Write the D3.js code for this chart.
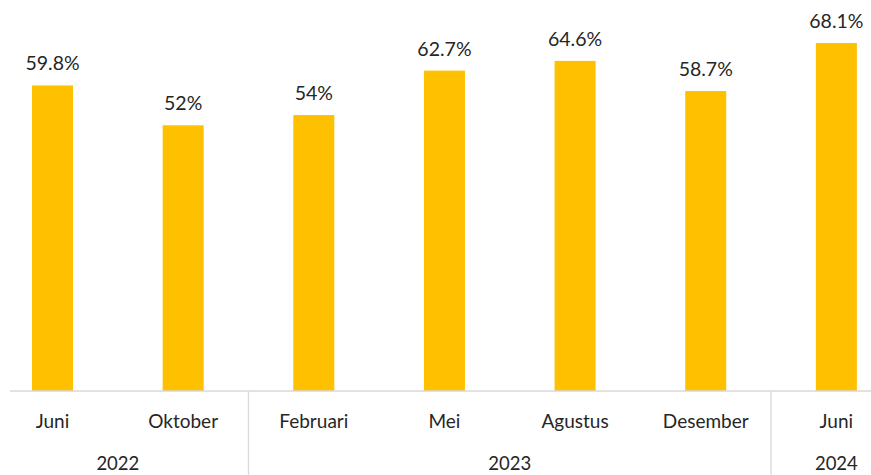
<!DOCTYPE html>
<html lang="en">
<head>
<meta charset="UTF-8">
<title>chart</title>
<script src="https://d3js.org/d3.v7.min.js"></script>
<style>
  body { margin: 0; background: #fff; }
  svg { display: block; font-family: Lato, "Open Sans", sans-serif; }
</style>
</head>
<body>
<svg id="chart" width="871" height="475"></svg>
<script>
const months = ["Juni", "Oktober", "Februari", "Mei", "Agustus", "Desember", "Juni"];
const years = ["2022", "2022", "2023", "2023", "2023", "2023", "2024"];
const values = [59.8, 52, 54, 62.7, 64.6, 58.7, 68.1];
const valueLabels = ["59.8%", "52%", "54%", "62.7%", "64.6%", "58.7%", "68.1%"];

const svg = d3.select("#chart");
const baseY = 391;

// category index scale (the chart is cropped a little on the left)
const x = d3.scaleBand()
    .domain(d3.range(values.length))
    .range([-12.8, 901.7])
    .paddingInner(0.686)
    .paddingOuter(0.343);

const y = d3.scaleLinear().domain([0, 70]).range([baseY, baseY - 357.7]);

// bars
svg.selectAll("rect.bar")
    .data(values)
    .enter().append("rect")
    .attr("class", "bar")
    .attr("x", (d, i) => x(i))
    .attr("width", x.bandwidth())
    .attr("y", d => y(d))
    .attr("height", d => y(0) - y(d))
    .attr("fill", "#FFC000");

// value labels
svg.selectAll("text.val")
    .data(values)
    .enter().append("text")
    .attr("class", "val")
    .attr("x", (d, i) => x(i) + x.bandwidth() / 2)
    .attr("y", d => y(d) - 15)
    .attr("text-anchor", "middle")
    .attr("font-size", 19.5)
    .attr("fill", "#262626")
    .text((d, i) => valueLabels[i]);

// axis line
svg.append("line")
    .attr("x1", 10).attr("x2", 871)
    .attr("y1", baseY).attr("y2", baseY)
    .attr("stroke", "#d9d9d9").attr("stroke-width", 1.3);

// month labels
svg.selectAll("text.month")
    .data(months)
    .enter().append("text")
    .attr("class", "month")
    .attr("x", (d, i) => x(i) + x.bandwidth() / 2)
    .attr("y", 428)
    .attr("text-anchor", "middle")
    .attr("font-size", 19)
    .attr("fill", "#262626")
    .text(d => d);

// year groups
const step = x.step();
const groups = [];
years.forEach((yr, i) => {
  const last = groups[groups.length - 1];
  if (last && last.year === yr) last.end = i;
  else groups.push({year: yr, start: i, end: i});
});

const groupLeft = g => x(g.start) - (step - x.bandwidth()) / 2;
const groupRight = g => x(g.end) + x.bandwidth() + (step - x.bandwidth()) / 2;

svg.selectAll("text.year")
    .data(groups)
    .enter().append("text")
    .attr("class", "year")
    .attr("x", g => (groupLeft(g) + groupRight(g)) / 2)
    .attr("y", 470)
    .attr("text-anchor", "middle")
    .attr("font-size", 18.5)
    .attr("fill", "#262626")
    .text(g => g.year);

// separators between year groups
svg.selectAll("line.sep")
    .data(groups.slice(1))
    .enter().append("line")
    .attr("class", "sep")
    .attr("x1", g => groupLeft(g)).attr("x2", g => groupLeft(g))
    .attr("y1", baseY).attr("y2", 475)
    .attr("stroke", "#d9d9d9").attr("stroke-width", 1.3);
</script>
</body>
</html>
